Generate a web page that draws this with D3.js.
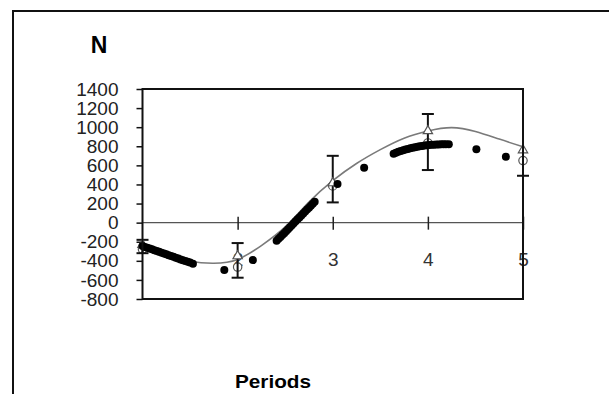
<!DOCTYPE html>
<html><head><meta charset="utf-8">
<script src="https://cdn.jsdelivr.net/npm/d3@7"></script>
<style>body{margin:0;background:#fff}svg{display:block}text{font-family:"Liberation Sans",Arial,sans-serif}</style>
</head><body>
<script>
const periods = [1, 2, 3, 4, 5];
const triangleValues = [-230, -350, 415, 960, 760];
const circleValues = [-280, -465, 385, 835, 650];
const errLow = [-320, -577, 212, 551, 491];
const errHigh = [-180, -214, 700, 1138, 770];
const curveX = [1, 1.25, 1.5, 1.75, 2, 2.25, 2.5, 2.75, 3, 3.25, 3.5, 3.75, 4, 4.25, 4.5, 4.75, 5];
const curveY = [-225, -335, -405, -425, -385, -240, -45, 215, 440, 620, 765, 885, 960, 995, 955, 875, 795];
const dotX = [1.000,1.025,1.050,1.075,1.100,1.125,1.150,1.175,1.200,1.225,1.250,1.275,1.300,1.325,1.350,1.375,1.400,1.425,1.450,1.475,1.500,1.530,
  1.86,2.16,
  2.41,2.43,2.45,2.47,2.49,2.51,2.53,2.55,2.57,2.59,2.61,2.63,2.65,2.67,2.69,2.71,2.73,2.75,2.77,2.79,2.81,
  3.05,3.33,
  3.640,3.665,3.690,3.715,3.740,3.765,3.790,3.815,3.840,3.865,3.890,3.915,3.940,3.965,3.990,4.015,4.040,4.065,4.090,4.115,4.140,4.165,4.190,4.220,
  4.51,4.82];
const dotY = [-245,-254,-262,-271,-280,-288,-297,-306,-315,-323,-332,-341,-350,-358,-367,-376,-385,-393,-402,-410,-418,-430,
  -497,-392,
  -190,-170,-150,-130,-110,-89,-68,-48,-27,-6,14,35,55,75,95,116,137,157,178,198,219,
  404,575,
  722,732,742,750,758,765,772,778,784,790,795,799,803,807,810,813,815,817,818,819,820,821,821,821,
  768,690];
const yTicks = [1400,1200,1000,800,600,400,200,0,-200,-400,-600,-800];
const xTicks = [2,3,4,5];
const yTitle = "N";
const xTitle = "Periods";

const W = 609, H = 394;
const svg = d3.select("body").append("svg").attr("width", W).attr("height", H);
const L = 142.5, R = 523, T = 89, B = 299;
const x = d3.scaleLinear().domain([1,5]).range([L,R]);
const y = d3.scaleLinear().domain([-800,1400]).range([B,T]);

// outer frame
svg.append("rect").attr("x",13).attr("y",11).attr("width",800).attr("height",600)
  .attr("fill","none").attr("stroke","#111").attr("stroke-width",2);

// titles
svg.append("text").attr("x",99).attr("y",53).attr("text-anchor","middle")
  .attr("font-size",23).attr("font-weight","bold").text(yTitle);
svg.append("text").attr("x",273).attr("y",388).attr("text-anchor","middle")
  .attr("font-size",19).attr("font-weight","bold").attr("textLength",76).attr("lengthAdjust","spacingAndGlyphs").text(xTitle);

// y axis
const yAxis = d3.axisLeft(y).tickValues(yTicks).tickSize(6).tickPadding(18).tickFormat(d => String(d));
const gy = svg.append("g").attr("transform",`translate(${L},0)`).call(yAxis);
gy.select(".domain").remove();
gy.selectAll("line").attr("stroke","#111").attr("stroke-width",1.5);
gy.selectAll("text").attr("font-size",19).attr("fill","#222").attr("font-family","'Liberation Sans',Arial,sans-serif");

// zero line
svg.append("line").attr("x1",L).attr("x2",R).attr("y1",y(0)).attr("y2",y(0))
  .attr("stroke","#555").attr("stroke-width",1.2);

// x axis (crossing ticks at zero)
const xAxis = d3.axisBottom(x).tickValues(xTicks).tickSize(0).tickPadding(30).tickFormat(d => String(d));
const gx = svg.append("g").attr("transform",`translate(0,${y(0)})`).call(xAxis);
gx.select(".domain").remove();
gx.selectAll("text").attr("font-size",19).attr("fill","#333").attr("font-family","'Liberation Sans',Arial,sans-serif");
gx.selectAll(".tick").append("line").attr("y1",-6).attr("y2",7).attr("stroke","#222").attr("stroke-width",1.5);

// fitted curve
const curvePts = curveX.map((d,i)=>[d,curveY[i]]);
svg.append("path").datum(curvePts)
  .attr("d", d3.line().x(d=>x(d[0])).y(d=>y(d[1])).curve(d3.curveNatural))
  .attr("fill","none").attr("stroke","#7a7a7a").attr("stroke-width",1.6);

// circles
svg.selectAll("circle.obs").data(periods).join("circle").attr("class","obs")
  .attr("cx",d=>x(d)).attr("cy",(d,i)=>y(circleValues[i])).attr("r",4.2)
  .attr("fill","#fff").attr("stroke","#555").attr("stroke-width",1.2);

// error bars
const eb = svg.append("g").attr("stroke","#111").attr("stroke-width",2);
periods.forEach((p,i)=>{
  eb.append("line").attr("x1",x(p)).attr("x2",x(p)).attr("y1",y(errLow[i])).attr("y2",y(errHigh[i]));
  eb.append("line").attr("x1",x(p)-6).attr("x2",x(p)+6).attr("y1",y(errLow[i])).attr("y2",y(errLow[i]));
  if (i < 4) eb.append("line").attr("x1",x(p)-6).attr("x2",x(p)+6).attr("y1",y(errHigh[i])).attr("y2",y(errHigh[i]));
});

// triangles
svg.selectAll("path.tri").data(periods).join("path").attr("class","tri")
  .attr("transform",(d,i)=>`translate(${x(d)},${y(triangleValues[i])})`)
  .attr("d", d3.symbol().type(d3.symbolTriangle).size(38))
  .attr("fill","#fff").attr("stroke","#555").attr("stroke-width",1.2);

// black dots
svg.selectAll("circle.dot").data(dotX).join("circle").attr("class","dot")
  .attr("cx",d=>x(d)).attr("cy",(d,i)=>y(dotY[i])).attr("r",4)
  .attr("fill","#000");

// plot frame
svg.append("rect").attr("x",L).attr("y",T).attr("width",R-L).attr("height",B-T)
  .attr("fill","none").attr("stroke","#111").attr("stroke-width",2);
</script>
</body></html>
